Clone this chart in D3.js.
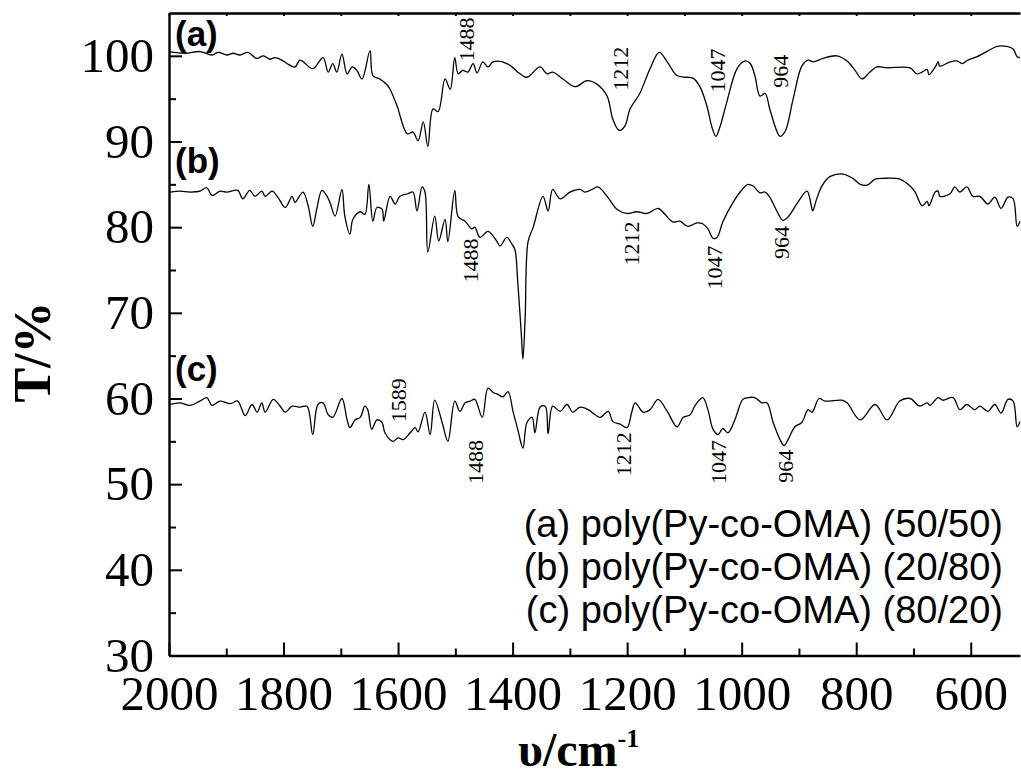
<!DOCTYPE html>
<html>
<head>
<meta charset="utf-8">
<script src="https://cdn.jsdelivr.net/npm/d3@7"></script>
<style>
  html, body { margin: 0; padding: 0; background: #fff; }
  svg { display: block; }
</style>
</head>
<body>
<svg id="chart" width="1021" height="778"></svg>
<script>
// FTIR transmittance spectra of poly(Py-co-OMA) copolymers
// wavenumber (cm-1) and transmittance (%) for each composition
const wnA = [2000,1972,1946,1925,1914,1899,1888,1876,1862,1847,1835,1824,1815,1803,1794,1780,1771,1749,1731,1722,1714,1707,1698,1689,1680,1672,1663,1649,1644,1632,1619,1614,1602,1584,1574,1565,1556,1548,1539,1530,1518,1509,1501,1495,1487,1478,1469,1462,1452,1443,1434,1410,1387,1375,1352,1340,1330,1312,1291,1270,1253,1235,1225,1214,1204,1195,1178,1160,1144,1130,1113,1096,1085,1073,1061,1052,1045,1038,1026,1008,994,985,977,968,959,951,938,933,924,910,895,884,875,858,834,816,802,790,776,764,746,706,694,685,676,673,662,657,654,636,624,615,605,589,572,554,537,526,519,514];
const tA = [100.5,100.3,100.5,100.1,100.4,100.1,100.3,100.1,100.4,99.7,100.0,99.6,99.8,99.5,99.1,98.7,99.5,98.5,99.8,98.1,99.1,98.1,100.2,97.9,98.7,98.3,97.3,100.6,97.7,97.3,96.6,96.1,94.2,90.9,91.1,90.1,92.3,89.4,93.8,93.5,97.3,96.1,99.8,97.9,98.3,98.1,99.1,98.0,99.3,98.7,99.3,99.1,97.9,97.5,98.7,97.9,98.1,97.3,96.4,97.1,96.7,95.3,92.6,91.3,91.8,93.8,95.6,98.5,100.4,99.3,97.7,97.5,97.4,96.4,94.2,91.7,90.6,91.7,94.6,98.5,99.4,99.1,97.7,95.3,95.6,93.8,91.1,90.6,91.2,95.0,98.8,99.5,99.3,99.7,100.0,99.4,98.3,97.3,98.1,98.7,98.6,98.6,97.9,98.1,98.4,97.8,98.7,99.3,98.8,99.3,99.4,99.1,99.5,99.9,100.5,101.1,101.1,100.8,99.9,99.8];

const wnB = [1998,1981,1963,1946,1934,1925,1911,1899,1880,1871,1859,1850,1838,1832,1820,1810,1797,1785,1780,1766,1757,1749,1742,1733,1724,1719,1710,1698,1693,1684,1679,1666,1658,1651,1644,1637,1628,1625,1614,1605,1597,1583,1574,1567,1558,1553,1548,1536,1529,1518,1513,1501,1495,1483,1471,1466,1457,1443,1427,1422,1410,1401,1396,1391,1385,1382,1378,1373,1364,1347,1338,1330,1317,1300,1282,1274,1261,1251,1235,1218,1200,1183,1165,1146,1134,1120,1108,1094,1078,1068,1059,1050,1043,1033,1015,999,989,980,968,959,951,938,928,919,902,886,879,876,869,860,846,823,806,793,781,767,753,724,706,697,685,676,673,662,657,654,636,628,619,607,596,584,570,558,547,535,526,519,514];
const tB = [84.1,84.2,84.1,84.2,84.6,83.7,84.2,84.1,84.3,83.3,84.3,83.6,84.2,83.6,84.2,83.5,82.3,83.6,82.9,84.1,82.5,80.1,82.1,84.3,83.6,82.9,81.3,84.4,81.3,79.2,80.9,81.8,81.5,85.0,80.7,82.3,82.1,80.7,83.6,82.7,83.6,83.9,84.1,81.9,84.7,84.1,77.1,81.3,78.4,80.9,78.3,84.3,81.2,80.7,79.8,80.0,78.8,79.5,78.3,77.8,78.8,78.0,77.4,73.6,67.7,64.6,69.6,78.3,80.0,83.6,81.9,84.4,83.3,84.1,84.4,84.1,84.4,84.7,83.6,82.1,81.6,81.8,81.6,82.2,81.5,80.6,80.7,80.1,80.5,80.4,79.8,78.7,78.8,80.6,82.9,84.4,85.0,84.8,84.0,84.1,83.5,81.8,80.8,81.2,82.9,84.2,82.7,81.9,83.3,84.8,85.9,86.2,85.7,85.0,84.9,85.6,85.7,85.6,84.8,84.1,82.5,83.0,82.5,84.1,84.2,83.6,83.9,84.7,84.1,84.7,83.6,83.6,82.7,83.5,82.2,83.5,83.3,80.1,80.7];

const wnC = [1998,1981,1963,1946,1934,1925,1911,1893,1880,1867,1855,1846,1838,1832,1818,1806,1797,1785,1771,1759,1749,1740,1731,1722,1714,1698,1689,1684,1675,1666,1658,1653,1646,1637,1628,1623,1609,1600,1591,1579,1570,1565,1553,1544,1536,1523,1513,1501,1492,1483,1474,1466,1453,1443,1434,1426,1417,1408,1399,1391,1382,1375,1366,1361,1352,1343,1338,1330,1317,1305,1295,1282,1268,1256,1247,1233,1225,1212,1200,1192,1186,1172,1160,1146,1130,1113,1102,1090,1082,1068,1059,1050,1041,1033,1024,1012,998,989,977,965,956,945,933,926,919,907,895,884,877,865,855,825,816,793,767,746,724,706,689,676,671,657,649,631,619,607,593,584,570,558,547,535,526,519,514];
const tC = [59.3,59.5,59.2,59.7,60.1,59.2,59.7,59.4,59.7,58.0,59.3,58.4,59.5,58.4,59.9,59.1,58.4,59.1,59.0,59.1,55.8,59.3,59.5,58.1,57.8,60.0,57.5,56.6,57.5,57.8,59.1,58.7,56.4,57.5,57.2,56.0,55.0,55.4,55.2,56.0,56.6,56.1,58.4,55.8,59.8,57.2,55.0,59.7,58.5,59.5,59.7,59.9,57.8,61.2,60.7,60.5,60.2,60.8,58.4,56.4,54.2,57.2,57.8,56.0,59.0,59.1,55.9,59.1,58.5,59.3,58.4,59.0,58.7,58.1,57.8,58.5,57.3,57.0,56.6,58.4,59.5,58.4,58.7,59.9,58.5,56.7,57.8,58.1,59.1,60.1,58.7,56.4,55.8,56.5,56.0,57.5,59.9,60.1,60.1,59.5,59.5,57.2,55.2,54.5,55.2,56.7,57.2,58.7,58.4,60.0,59.7,59.8,59.5,57.5,59.3,57.5,59.7,60.0,59.1,59.5,59.2,60.1,59.8,60.1,58.7,59.3,58.7,59.1,58.5,59.3,58.3,59.9,59.7,56.7,57.3];

// band assignments written beside each trace: label, wavenumber and transmittance of its centre
const peakText = ["1488","1212","1047","964","1488","1212","1047","964","1589","1488","1212","1047","964"];
const peakWn   = [1481,1212,1043,933,1474,1192,1047,930,1600,1466,1207,1041,924];
const peakT    = [101.9,98.5,98.3,98.2,76.1,78.1,75.3,78.2,59.8,52.6,53.5,52.6,52.1];

const panelText = ["(a)","(b)","(c)"];
const panelT    = [101.1,86.3,62.0];

const legendText = ["(a) poly(Py-co-OMA) (50/50)","(b) poly(Py-co-OMA) (20/80)","(c) poly(Py-co-OMA) (80/20)"];

const xTicks = [2000,1800,1600,1400,1200,1000,800,600];
const xMinor = [1900,1700,1500,1300,1100,900,700];
const yTicks = [30,40,50,60,70,80,90,100];
const yMinor = [35,45,55,65,75,85,95];

const svg = d3.select("#chart");
const plotL = 169, plotR = 1020, plotT = 13, plotB = 655.5;

const x = d3.scaleLinear().domain([2000, 514]).range([plotL, plotR]);
const y = d3.scaleLinear().domain([30, 105]).range([plotB, plotT]);

const serif = "'Liberation Serif','Times New Roman',serif";
const sans = "'Liberation Sans',Arial,sans-serif";

// spectra
const line = d3.line().x(d => x(d[0])).y(d => y(d[1])).curve(d3.curveCatmullRom.alpha(0.5));
[[wnA, tA], [wnB, tB], [wnC, tC]].forEach(([w, t]) => {
  svg.append("path")
    .datum(w.map((v, i) => [v, t[i]]))
    .attr("d", line)
    .attr("fill", "none")
    .attr("stroke", "#000")
    .attr("stroke-width", 1.3)
    .attr("stroke-linejoin", "round");
});

// bottom axis with inward ticks
const gx = svg.append("g").attr("transform", `translate(0,${plotB})`)
  .call(d3.axisBottom(x).tickValues(xTicks).tickSizeInner(-13).tickSizeOuter(0).tickPadding(20).tickFormat(d3.format("d")));
svg.append("g").attr("transform", `translate(0,${plotB})`)
  .call(d3.axisBottom(x).tickValues(xMinor).tickSizeInner(-7).tickSizeOuter(0).tickFormat(""))
  .select(".domain").remove();

// left axis with inward ticks
const gy = svg.append("g").attr("transform", `translate(${plotL},0)`)
  .call(d3.axisLeft(y).tickValues(yTicks).tickSizeInner(-13).tickSizeOuter(0).tickPadding(15).tickFormat(d3.format("d")));
svg.append("g").attr("transform", `translate(${plotL},0)`)
  .call(d3.axisLeft(y).tickValues(yMinor).tickSizeInner(-7).tickSizeOuter(0).tickFormat(""))
  .select(".domain").remove();

// top frame with small ticks
svg.append("g").attr("transform", `translate(0,${plotT})`)
  .call(d3.axisTop(x).tickValues(xTicks.concat(xMinor)).tickSizeInner(-3).tickSizeOuter(0).tickFormat(""));

svg.selectAll(".domain").attr("stroke", "#000").attr("stroke-width", 2.4);
svg.selectAll(".tick line").attr("stroke", "#000").attr("stroke-width", 2);

svg.selectAll("g").attr("font-family", null);
gx.selectAll(".tick text").attr("font-family", serif).attr("font-size", 49).attr("fill", "#000").attr("dy", "0.71em");
gy.selectAll(".tick text").attr("font-family", serif).attr("font-size", 49).attr("fill", "#000");

// axis titles
svg.append("text")
  .attr("transform", "translate(50,352) rotate(-90)")
  .attr("text-anchor", "middle")
  .attr("font-family", serif).attr("font-weight", "bold").attr("font-size", 52)
  .text("T/%");

const xt = svg.append("text")
  .attr("x", 518).attr("y", 766)
  .attr("font-family", serif).attr("font-weight", "bold").attr("font-size", 48);
xt.append("tspan").text("\u03c5/cm");
xt.append("tspan").attr("dy", -19).attr("font-size", 26).text("-1");

// band labels
svg.append("g").selectAll("text")
  .data(peakText)
  .join("text")
  .attr("transform", (d, i) => `translate(${x(peakWn[i])},${y(peakT[i])}) rotate(-90)`)
  .attr("text-anchor", "middle")
  .attr("dy", "0.35em")
  .attr("font-family", serif).attr("font-size", 22)
  .text(d => d);

// trace labels
svg.append("g").selectAll("text")
  .data(panelText)
  .join("text")
  .attr("x", plotL + 6)
  .attr("y", (d, i) => y(panelT[i]))
  .attr("font-family", sans).attr("font-weight", "bold").attr("font-size", 35)
  .text(d => d);

// legend
svg.append("g").selectAll("text")
  .data(legendText)
  .join("text")
  .attr("x", 1003)
  .attr("y", (d, i) => 537 + i * 43)
  .attr("text-anchor", "end")
  .attr("font-family", sans).attr("font-size", 38)
  .text(d => d);
</script>
</body>
</html>
